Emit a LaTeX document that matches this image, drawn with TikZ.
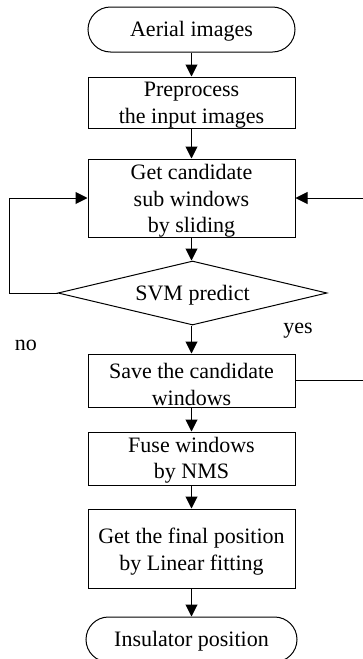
\documentclass[tikz,border=0pt]{standalone}
\usepackage{fontspec}
\setmainfont{Liberation Serif}
\usetikzlibrary{shapes.geometric,arrows.meta}
\begin{document}
\begin{tikzpicture}[x=1pt,y=-1pt,
  txt/.style={font=\fontsize{22}{26.5}\selectfont,align=center,inner sep=0pt},
  box/.style={draw,line width=1pt,minimum width=207pt,inner sep=0pt},
  term/.style={box,rounded corners=22.5pt,minimum height=45pt},
  dec/.style={draw,diamond,shape aspect=4.2,line width=1pt,minimum width=269pt,minimum height=64pt,inner sep=0pt},
  arr/.style={-{Triangle[length=12pt,width=12pt]},line width=1pt},
  ln/.style={line width=1pt}]
\useasboundingbox (0,0) rectangle (363,659);
\node[term] (a) at (191.5,29.5) {};
\node[box,minimum height=51pt] (b) at (191.5,102.5) {};
\node[box,minimum height=78pt] (c) at (191.5,198) {};
\node[dec] (d) at (192.5,293) {};
\node[box,minimum height=53pt] (e) at (191.5,380.5) {};
\node[box,minimum height=53pt] (f) at (191.5,458.5) {};
\node[box,minimum height=79pt] (g) at (191.5,548.5) {};
\node[term,minimum width=211pt] (h) at (191.5,639.5) {};
\node[txt] (at) at ([yshift=-2pt]a.center) {Aerial images};
\node[txt] (bt) at ([yshift=-2.5pt]b.center) {Preprocess\\the input images};
\node[txt] (ct) at ([yshift=-3pt]c.center) {Get candidate\\sub windows\\by sliding};
\node[txt] (dt) at ([yshift=-2pt]d.center) {SVM predict};
\node[txt] (et) at ([yshift=-4pt]e.center) {Save the candidate\\windows};
\node[txt] (ft) at ([yshift=-1.5pt]f.center) {Fuse windows\\by NMS};
\node[txt] (gt) at ([yshift=-3pt]g.center) {Get the final position\\by Linear fitting};
\node[txt] (ht) at ([yshift=-2pt]h.center) {Insulator position};
\node[txt] (yes) at (298,331) {yes};
\node[txt] (no) at (26,345) {no};
\coordinate (L) at (9,293);
\coordinate (R) at (364.5,380.5);
\draw[arr] (a) -- (b);
\draw[arr] (b) -- (c);
\draw[arr] (c.south) -- (c.south |- d.north);
\draw[arr] (d.south -| e.north) -- (e.north);
\draw[arr] (e) -- (f);
\draw[arr] (f) -- (g);
\draw[arr] (g) -- (h);
\draw[arr] (d.west) -- (L) |- (c.west);
\draw[arr] (e.east) -- (R) |- (c.east);
\end{tikzpicture}
\end{document}
